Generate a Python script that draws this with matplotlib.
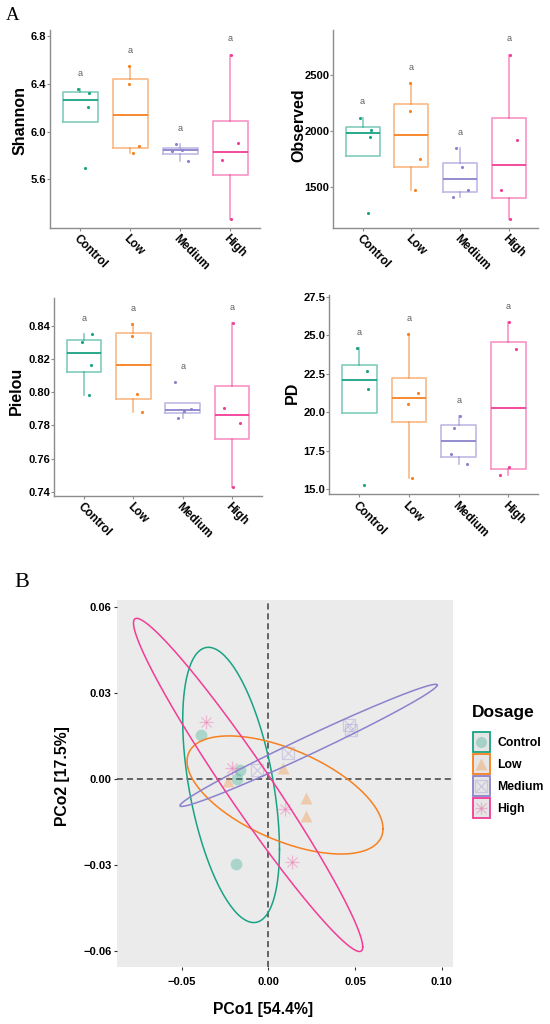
import numpy as np
import matplotlib
matplotlib.use('Agg')
import matplotlib.pyplot as plt
from matplotlib.patches import Rectangle

plt.rcParams['font.family'] = ['Liberation Sans', 'DejaVu Sans']

# grupos e cores
groups = ['Control', 'Low', 'Medium', 'High']
colors = ['#18A383', '#F7801F', '#8A82CD', '#F23C96']

# jitter horizontal dos pontos (igual em todos os paineis)
jitter = [[-0.047, 0.17, 0.15, 0.105],
          [-0.02, -0.02, 0.18, 0.067],
          [-0.087, -0.153, 0.033, 0.165],
          [0.02, 0.16, -0.17, 0.02]]

# indices de diversidade alfa (4 amostras por grupo)
shannon = [[6.358, 6.322, 6.207, 5.696],
           [6.554, 6.403, 5.878, 5.821],
           [5.894, 5.838, 5.850, 5.754],
           [6.647, 5.905, 5.760, 5.271]]
observed = [[2117, 2007, 1945, 1266],
            [2423, 2171, 1749, 1473],
            [1847, 1408, 1672, 1470],
            [2678, 1921, 1467, 1215]]
pielou = [[0.8307, 0.8356, 0.8168, 0.7985],
          [0.8416, 0.8340, 0.7880, 0.7991],
          [0.7848, 0.8066, 0.7888, 0.7897],
          [0.8422, 0.7818, 0.7909, 0.7429]]
pd_vals = [[24.19, 21.50, 22.65, 15.26],
           [25.05, 20.54, 21.24, 15.69],
           [18.95, 17.25, 19.77, 16.62],
           [25.88, 24.10, 15.93, 16.45]]

shannon_ticks = [5.6, 6.0, 6.4, 6.8]
observed_ticks = [1500, 2000, 2500]
pielou_ticks = [0.74, 0.76, 0.78, 0.80, 0.82, 0.84]
pd_ticks = [15.0, 17.5, 20.0, 22.5, 25.0, 27.5]

# PCoA
pc1 = [[-0.0388, -0.0163, -0.0179, -0.0186],
       [-0.0234, 0.0087, 0.0216, 0.0216],
       [-0.0067, 0.0115, 0.0467, 0.0475],
       [-0.0359, -0.0208, 0.0096, 0.0138]]
pc2 = [[0.0153, 0.0031, -0.0001, -0.0297],
       [-0.0006, 0.0037, -0.0067, -0.0131],
       [0.0031, 0.0090, 0.0188, 0.0171],
       [0.0200, 0.0039, -0.0106, -0.0290]]
# elipses: centro, meia-extensao em x e y, correlacao
ell_cx = [-0.0215, 0.0096, 0.0232, -0.0117]
ell_cy = [-0.0021, -0.0056, 0.0117, -0.0021]
ell_rx = [0.0279, 0.0565, 0.0742, 0.0661]
ell_ry = [0.0480, 0.0206, 0.0213, 0.0581]
ell_rho = [-0.469, -0.571, 0.987, -0.972]

W, H = 550, 1024
fig = plt.figure(figsize=(W / 100, H / 100), dpi=100)


def add_ax(l, t, r, b):
    return fig.add_axes([l / W, 1 - b / H, (r - l) / W, (b - t) / H])


def alpha_panel(box, values, ticks, fmt, ylabel, lab_xy):
    ax = add_ax(*box)
    allv = np.concatenate([np.array(v, float) for v in values])
    lo, hi = allv.min(), allv.max()
    off = 0.095 * (hi - lo)
    labs = [max(v) + off for v in values]
    R = max(labs) - lo
    top = max(max(labs) + 0.05 * R, ticks[-1] + 0.01 * R)
    ax.set_ylim(lo - 0.05 * R, top)
    ax.set_xlim(0.4, 4.6)
    bp = ax.boxplot(values, positions=[1, 2, 3, 4], widths=0.7, whis=1.5,
                    showfliers=False, showcaps=False)
    for i, c in enumerate(colors):
        for el in [bp['boxes'][i], bp['whiskers'][2 * i], bp['whiskers'][2 * i + 1]]:
            el.set_color(c)
            el.set_alpha(0.55)
            el.set_linewidth(1.2)
        bp['medians'][i].set_color(c)
        bp['medians'][i].set_linewidth(1.3)
        ax.scatter(i + 1 + np.array(jitter[i]), values[i], s=5, color=c, lw=0, zorder=3)
        ax.text(i + 1, labs[i], 'a', ha='center', va='center', fontsize=6.5, color='#606060')
    for s in ['top', 'right']:
        ax.spines[s].set_visible(False)
    for s in ['left', 'bottom']:
        ax.spines[s].set_color('#8c8c8c')
        ax.spines[s].set_linewidth(1)
    ax.tick_params(length=2.2, width=0.8, color='#8c8c8c')
    ax.tick_params(axis='x', pad=1.5)
    ax.tick_params(axis='y', pad=0.8)
    ax.set_yticks(ticks, labels=[fmt.format(t) for t in ticks], fontsize=8, fontweight='bold')
    ax.set_xticks([1, 2, 3, 4], labels=groups, rotation=-45, ha='left', va='top',
                  rotation_mode='anchor', fontsize=8.5, fontweight='bold')
    ax.set_ylabel(ylabel, fontsize=11.5, fontweight='bold')
    ax.yaxis.set_label_coords(*lab_xy)
    return ax


alpha_panel((50, 30, 260, 227.7), shannon, shannon_ticks, '{:.1f}', 'Shannon', (-0.105, 0.54))
alpha_panel((333.3, 30, 538.3, 227.7), observed, observed_ticks, '{:.0f}', 'Observed', (-0.132, 0.52))
alpha_panel((54.3, 298.3, 261.7, 495.7), pielou, pielou_ticks, '{:.2f}', 'Pielou', (-0.148, 0.53))
alpha_panel((329.3, 295, 538.3, 494), pd_vals, pd_ticks, '{:.1f}', 'PD', (-0.14, 0.51))

fig.text(12.8 / W, 1 - 15.5 / H, 'A', family='Liberation Serif', fontsize=13.5,
         ha='center', va='center')
fig.text(22 / W, 1 - 582.5 / H, 'B', family='Liberation Serif', fontsize=16,
         ha='center', va='center')


def draw_marker(ax, x, y, i, ms):
    c = colors[i]
    if i == 0:
        ax.plot(x, y, 'o', ms=ms, color=c, alpha=0.3, mec='none', zorder=2)
    elif i == 1:
        ax.plot(x, y, '^', ms=ms * 1.05, color=c, alpha=0.3, mec='none', zorder=2)
    elif i == 2:
        ax.plot(x, y, 's', ms=ms, mfc='none', mec=c, alpha=0.3, mew=0.9, zorder=2)
        ax.plot(x, y, 'x', ms=ms * 0.9, mec=c, alpha=0.3, mew=0.9, zorder=2)
    else:
        ax.plot(x, y, '+', ms=ms * 1.15, mec=c, alpha=0.3, mew=0.9, zorder=2)
        ax.plot(x, y, 'x', ms=ms * 0.85, mec=c, alpha=0.3, mew=0.9, zorder=2)


# painel B - PCoA
ax = add_ax(117, 600, 452.7, 967)
ax.set_facecolor('#EBEBEB')
ax.set_xlim(-0.0873, 0.1063)
ax.set_ylim(-0.0656, 0.0624)
for s in ax.spines.values():
    s.set_visible(False)
ax.axhline(0, color='#404040', ls=(0, (4, 2.5)), lw=1.1, zorder=1)
ax.axvline(0, color='#404040', ls=(0, (4, 2.5)), lw=1.1, zorder=1)
for i in range(4):
    draw_marker(ax, pc1[i], pc2[i], i, 8.5)
t = np.linspace(0, 2 * np.pi, 300)
for i in range(4):
    cov = np.array([[ell_rx[i] ** 2, ell_rho[i] * ell_rx[i] * ell_ry[i]],
                    [ell_rho[i] * ell_rx[i] * ell_ry[i], ell_ry[i] ** 2]])
    L = np.linalg.cholesky(cov)
    pts = L @ np.vstack([np.cos(t), np.sin(t)])
    ax.plot(ell_cx[i] + pts[0], ell_cy[i] + pts[1], color=colors[i], lw=1.1, zorder=3)
xt = [-0.05, 0.0, 0.05, 0.10]
yt = [-0.06, -0.03, 0.0, 0.03, 0.06]
ax.set_xticks(xt, labels=['{:.2f}'.format(v).replace('-', '\u2212') for v in xt],
              fontsize=8, fontweight='bold')
ax.set_yticks(yt, labels=['{:.2f}'.format(v).replace('-', '\u2212') for v in yt],
              fontsize=8, fontweight='bold')
ax.tick_params(length=2.5, width=0.8, color='#333333', pad=1.5)
ax.tick_params(axis='x', pad=5)
ax.set_xlabel('PCo1 [54.4%]', fontsize=11.3, fontweight='bold')
ax.xaxis.label.set_va('center')
ax.xaxis.set_label_coords(0.434, -0.117)
ax.set_ylabel('PCo2 [17.5%]', fontsize=11.3, fontweight='bold')
ax.yaxis.label.set_va('center')
ax.yaxis.set_label_coords(-0.162, 0.52)

# legenda
lax = add_ax(462, 695, 548, 825)
lax.set_xlim(462, 548)
lax.set_ylim(825, 695)
lax.axis('off')
lax.text(472, 712, 'Dosage', fontsize=12.5, fontweight='bold', ha='left', va='center')
for i, g in enumerate(groups):
    y0 = 731.5 + i * 22.2
    lax.add_patch(Rectangle((472.5, y0), 17.5, 20, facecolor='#E6E6E6',
                            edgecolor=colors[i], lw=1.3))
    draw_marker(lax, [481.2], [y0 + 10], i, 8)
    lax.text(497, y0 + 11, g, fontsize=8.8, fontweight='bold', ha='left', va='center')

fig.savefig('out.png', dpi=100)
